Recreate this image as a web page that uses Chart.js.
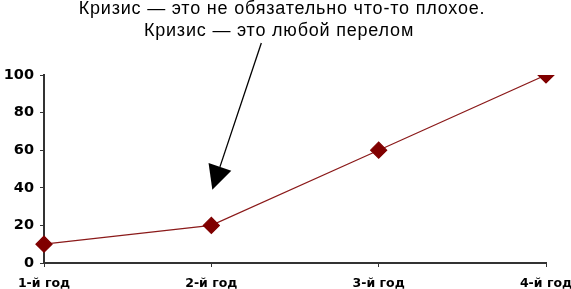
<!DOCTYPE html>
<html>
<head>
<meta charset="utf-8">
<script src="https://cdn.jsdelivr.net/npm/chart.js@4"></script>
<style>
  html, body { margin: 0; padding: 0; background: #fff; }
  #wrap { width: 571px; height: 289px; }
</style>
</head>
<body>
<div id="wrap"><canvas id="crisisChart"></canvas></div>
<script>
const years = ['1-й год', '2-й год', '3-й год', '4-й год'];
const values = [10, 20, 60, 100];
const titleLines = ['Кризис — это не обязательно что-то плохое.', 'Кризис — это любой перелом'];

// title text and the arrow pointing at the turn after year 2
const notePlugin = {
   id: 'note',
   afterDraw(chart) {
      const ctx = chart.ctx;
      const x = chart.scales.x;
      const y = chart.scales.y;
      ctx.save();
      ctx.fillStyle = '#000';
      ctx.font = '18px "Liberation Sans", Arial, sans-serif';
      ctx.letterSpacing = '0.8px';
      ctx.textAlign = 'center';
      ctx.textBaseline = 'middle';
      ctx.fillText(titleLines[0], 282, 9);
      ctx.fillText(titleLines[1], 279, 31);

      const tipX = x.getPixelForValue(1) + 1;
      const tipY = y.getPixelForValue(39);
      const startX = tipX + 49, startY = 43;
      const ang = Math.atan2(tipY - startY, tipX - startX);
      const headLen = 24, headW = 12;
      const bx = tipX - headLen * Math.cos(ang);
      const by = tipY - headLen * Math.sin(ang);
      ctx.strokeStyle = '#000';
      ctx.lineWidth = 1.3;
      ctx.beginPath();
      ctx.moveTo(startX, startY);
      ctx.lineTo(bx, by);
      ctx.stroke();
      ctx.beginPath();
      ctx.moveTo(tipX, tipY);
      ctx.lineTo(bx + headW * Math.sin(ang), by - headW * Math.cos(ang));
      ctx.lineTo(bx - headW * Math.sin(ang), by + headW * Math.cos(ang));
      ctx.closePath();
      ctx.fillStyle = '#000';
      ctx.fill();
      ctx.restore();
   }
};

const ctx = document.getElementById('crisisChart').getContext('2d');
new Chart(ctx, {
   type: 'line',
   data: {
      labels: years,
      datasets: [{
         data: values,
         borderColor: '#8b1a1a',
         borderWidth: 1.2,
         backgroundColor: '#800000',
         pointBackgroundColor: '#800000',
         pointBorderColor: '#800000',
         pointStyle: 'rectRot',
         pointRadius: 8,
         tension: 0
      }]
   },
   options: {
      responsive: true,
      maintainAspectRatio: false,
      animation: false,
      layout: { padding: { top: 75, right: 25, left: 0, bottom: 0 } },
      scales: {
         x: {
            offset: false,
            grid: { drawOnChartArea: false, tickLength: 4, color: '#333' },
            border: { color: '#333', width: 2 },
            ticks: {
               color: '#000',
               padding: 9,
               maxRotation: 0,
               font: { family: '"DejaVu Sans", Verdana, sans-serif', weight: 'bold', size: 12.5 }
            },
            afterFit(scale) {
               scale.height = 26;
               scale.paddingLeft = 0;
               scale.paddingRight = 0;
            }
         },
         y: {
            min: 0,
            max: 100,
            grid: { drawOnChartArea: false, tickLength: 4, color: '#333' },
            border: { color: '#333', width: 2 },
            ticks: {
               stepSize: 20,
               color: '#000',
               padding: 6,
               font: { family: '"DejaVu Sans", Verdana, sans-serif', weight: 'bold', size: 14.5 }
            },
            afterFit(scale) { scale.width = 44; }
         }
      },
      plugins: {
         legend: { display: false },
         title: { display: false },
         tooltip: { enabled: false }
      }
   },
   plugins: [notePlugin]
});
</script>
</body>
</html>
